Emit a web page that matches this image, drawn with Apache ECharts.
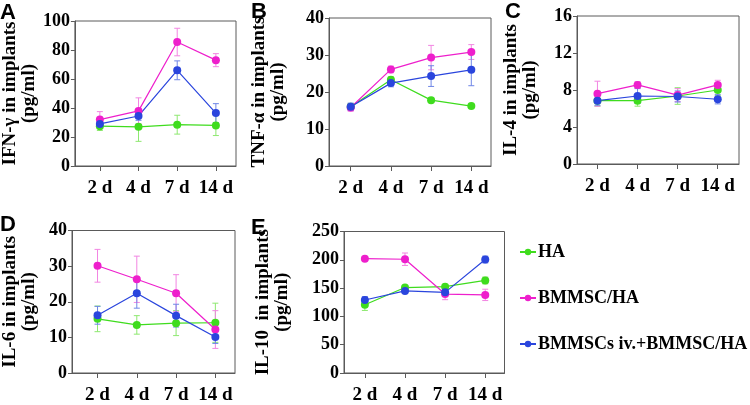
<!DOCTYPE html>
<html>
<head>
<meta charset="utf-8">
<script src="https://cdn.jsdelivr.net/npm/echarts@6/dist/echarts.min.js"></script>
<style>
html,body{margin:0;padding:0;background:#fff;}
#chart{width:750px;height:405px;}
</style>
</head>
<body>
<div id="chart"></div>
<script>
// ---------- DATA ----------
const days = ['2 d', '4 d', '7 d', '14 d'];
const seriesNames = ['HA', 'BMMSC/HA', 'BMMSCs iv.+BMMSC/HA'];

// A: IFN-γ
const ifnHA = [27.5, 27, 28.5, 28];
const ifnHAErr = [3, 10, 6.5, 7];
const ifnBM = [32, 38, 85.5, 73];
const ifnBMErr = [5.5, 9, 9.5, 4.5];
const ifnIV = [29, 34.5, 66, 36.5];
const ifnIVErr = [2, 3, 6.5, 6.5];

// B: TNF-α
const tnfHA = [16, 23.3, 17.8, 16.2];
const tnfHAErr = [0.8, 0.8, 0.6, 0.5];
const tnfBM = [15.8, 26.1, 29.3, 30.8];
const tnfBMErr = [1, 0.9, 3.3, 2];
const tnfIV = [16, 22.4, 24.3, 26];
const tnfIVErr = [1, 1, 2.8, 4.3];

// C: IL-4
const il4HA = [6.85, 6.85, 7.35, 8.0];
const il4HAErr = [0.6, 0.6, 0.9, 0.6];
const il4BM = [7.6, 8.55, 7.45, 8.55];
const il4BMErr = [1.35, 0.35, 0.7, 0.5];
const il4IV = [6.85, 7.35, 7.3, 7.0];
const il4IVErr = [0.5, 0.8, 0.6, 0.5];

// D: IL-6
const il6HA = [15.2, 13.5, 14, 14.1];
const il6HAErr = [3.6, 2.6, 3.5, 5.5];
const il6BM = [30.1, 26.3, 22.4, 12.2];
const il6BMErr = [4.6, 6.5, 5.2, 5.3];
const il6IV = [16.2, 22.4, 16.1, 10.1];
const il6IVErr = [2.5, 4.2, 3.2, 1.8];

// E: IL-10
const il10HA = [120.5, 151, 152.5, 163.5];
const il10HAErr = [10, 3, 4, 6];
const il10BM = [202, 201, 139.5, 138];
const il10BMErr = [3, 11, 10, 10];
const il10IV = [129, 145, 142.5, 200.5];
const il10IVErr = [6, 3, 5, 6];

// ---------- PANELS ----------
const panels = [
  { letter: 'A', name: 'IFN-γ in implants\n(pg/ml)', max: 100, step: 20,
    grid: {left: 68, top: 21, width: 168, height: 145}, xmin: -0.645, xmax: 3.52, nameGap: 33,
    letterPos: {left: 0, top: 2},
    vals: [ifnHA, ifnBM, ifnIV], errs: [ifnHAErr, ifnBMErr, ifnIVErr] },
  { letter: 'B', name: 'TNF-α in implants\n(pg/ml)', max: 40, step: 10,
    grid: {left: 329, top: 18, width: 162, height: 148}, xmin: -0.54, xmax: 3.49, nameGap: 41,
    letterPos: {left: 251, top: 1},
    vals: [tnfHA, tnfBM, tnfIV], errs: [tnfHAErr, tnfBMErr, tnfIVErr] },
  { letter: 'C', name: 'IL-4 in implants\n(pg/ml)', max: 16, step: 4,
    grid: {left: 577, top: 16, width: 162, height: 148}, xmin: -0.51, xmax: 3.53, nameGap: 37,
    letterPos: {left: 505, top: 1},
    vals: [il4HA, il4BM, il4IV], errs: [il4HAErr, il4BMErr, il4IVErr] },
  { letter: 'D', name: 'IL-6 in implants\n(pg/ml)', max: 40, step: 10,
    grid: {left: 68, top: 230.5, width: 167, height: 146}, xmin: -0.65, xmax: 3.5, nameGap: 33,
    letterPos: {left: 0, top: 214},
    vals: [il6HA, il6BM, il6IV], errs: [il6HAErr, il6BMErr, il6IVErr] },
  { letter: 'E', name: 'IL-10  in implants\n(pg/ml)', max: 250, step: 50,
    grid: {left: 344, top: 231.5, width: 160.5, height: 145}, xmin: -0.52, xmax: 3.48, nameGap: 52,
    letterPos: {left: 251, top: 217},
    vals: [il10HA, il10BM, il10IV], errs: [il10HAErr, il10BMErr, il10IVErr] }
];

const lineColors = ['#3fdc1e', '#ee1fcc', '#2a45dd'];
const errColors = ['#8ee870', '#f285e2', '#6f86e6'];
const serif = "'Liberation Serif', 'Times New Roman', serif";
const axisColor = '#5a5a5a';

const grids = [], xAxes = [], yAxes = [], series = [], titles = [];

panels.forEach((p, i) => {
  grids.push(Object.assign({ show: true, borderColor: axisColor, borderWidth: 1, containLabel: false }, p.grid));
  titles.push({
    text: p.letter, left: p.letterPos.left, top: p.letterPos.top, padding: 0,
    textStyle: { fontFamily: "'Liberation Sans', Arial, sans-serif", fontWeight: 'bold', fontSize: 22, color: '#000' }
  });
  xAxes.push({
    type: 'value', gridIndex: i, min: p.xmin, max: p.xmax,
    axisLine: { show: true, onZero: false, lineStyle: { color: axisColor } },
    axisTick: { show: true, length: 5, inside: false, customValues: [0, 1, 2, 3], lineStyle: { color: axisColor } },
    axisLabel: { customValues: [0, 1, 2, 3], formatter: v => days[Math.round(v)], margin: 13,
      fontFamily: serif, fontWeight: 'bold', fontSize: 19, color: '#000' },
    splitLine: { show: false }
  });
  yAxes.push({
    type: 'value', gridIndex: i, min: 0, max: p.max, interval: p.step,
    name: p.name, nameLocation: 'middle', nameRotate: 90, nameGap: p.nameGap,
    nameTextStyle: { fontFamily: serif, fontWeight: 'bold', fontSize: 19, color: '#000', lineHeight: 19 },
    axisLine: { show: true, onZero: false, lineStyle: { color: axisColor } },
    axisTick: { show: true, length: 4, lineStyle: { color: axisColor } },
    axisLabel: { margin: 5, fontFamily: serif, fontWeight: 'bold', fontSize: 18, color: '#000' },
    splitLine: { show: false }
  });
  // error bars
  p.vals.forEach((vals, s) => {
    const errData = vals.map((v, k) => [k, v - p.errs[s][k], v + p.errs[s][k]]);
    series.push({
      type: 'custom', xAxisIndex: i, yAxisIndex: i, z: 1, silent: true,
      encode: { x: 0, y: [1, 2] },
      data: errData,
      renderItem: (params, api) => {
        const x = api.value(0);
        const lo = api.coord([x, api.value(1)]);
        const hi = api.coord([x, api.value(2)]);
        const cw = 3;
        const style = { stroke: errColors[s], lineWidth: 1 };
        return { type: 'group', children: [
          { type: 'line', shape: { x1: lo[0], y1: lo[1], x2: hi[0], y2: hi[1] }, style },
          { type: 'line', shape: { x1: hi[0] - cw, y1: hi[1], x2: hi[0] + cw, y2: hi[1] }, style },
          { type: 'line', shape: { x1: lo[0] - cw, y1: lo[1], x2: lo[0] + cw, y2: lo[1] }, style }
        ]};
      }
    });
  });
  p.vals.forEach((vals, s) => {
    series.push({
      name: seriesNames[s], type: 'line', xAxisIndex: i, yAxisIndex: i, z: 3,
      data: vals.map((v, k) => [k, v]),
      symbol: 'circle', symbolSize: 8,
      lineStyle: { color: lineColors[s], width: 1.2 },
      itemStyle: { color: lineColors[s] },
      emphasis: { disabled: true }
    });
  });
});

const chart = echarts.init(document.getElementById('chart'), null, { renderer: 'canvas' });
chart.setOption({
  animation: false,
  backgroundColor: '#fff',
  title: titles,
  grid: grids,
  xAxis: xAxes,
  yAxis: yAxes,
  legend: {
    data: seriesNames, orient: 'vertical', left: 514, top: 238,
    itemGap: 28, itemWidth: 16, itemHeight: 8,
    textStyle: { fontFamily: serif, fontWeight: 'bold', fontSize: 18, color: '#000', padding: [0, 0, 0, -3] }
  },
  series: series
});
</script>
</body>
</html>
